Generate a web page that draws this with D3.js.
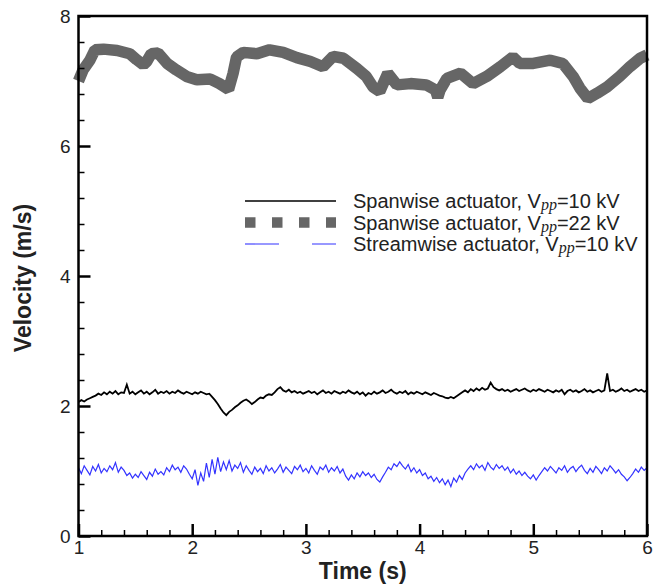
<!DOCTYPE html>
<html>
<head>
<meta charset="utf-8">
<script src="https://cdn.jsdelivr.net/npm/d3@7"></script>
<style>
  body { margin: 0; background: #fff; }
  svg { display: block; font-family: "Liberation Sans", Arial, Helvetica, sans-serif; }
  .tick-label { font-size: 19px; fill: #222; }
  .axis-title { font-size: 23px; font-weight: bold; fill: #222; }
  .legend-text { font-size: 20px; fill: #222; }
</style>
</head>
<body>
<div id="chart"></div>
<script>
// Axis ranges and ticks
var XTICKS = [1, 2, 3, 4, 5, 6];
var YTICKS = [0, 2, 4, 6, 8];
var XMINOR_STEP = 0.2;
var YMINOR_STEP = 0.4;

// Series labels
var LABELS = [
  { pre: 'Spanwise actuator, V', sub: 'pp', post: '=10 kV' },
  { pre: 'Spanwise actuator, V', sub: 'pp', post: '=22 kV' },
  { pre: 'Streamwise actuator, V', sub: 'pp', post: '=10 kV' }
];

// Sampled series (regular time step from T_START to T_END)
var T_START = 1;
var T_END = 6;

// Spanwise actuator, Vpp=10 kV (m/s)
var SPAN10 = [
  2.06, 2.09, 2.07, 2.10, 2.12, 2.14, 2.16, 2.19, 2.17, 2.21,
  2.18, 2.22, 2.19, 2.23, 2.18, 2.21, 2.20, 2.33, 2.19, 2.22,
  2.18, 2.21, 2.24, 2.19, 2.22, 2.18, 2.21, 2.25, 2.19, 2.22,
  2.20, 2.23, 2.19, 2.22, 2.20, 2.24, 2.21, 2.19, 2.22, 2.20,
  2.18, 2.21, 2.19, 2.22, 2.20, 2.18, 2.19, 2.14, 2.09, 2.03,
  1.96, 1.90, 1.86, 1.91, 1.94, 1.98, 2.01, 2.05, 2.08, 2.10,
  2.07, 2.03, 2.06, 2.10, 2.13, 2.12, 2.16, 2.18, 2.17, 2.21,
  2.26, 2.29, 2.24, 2.22, 2.25, 2.21, 2.23, 2.20, 2.22, 2.19,
  2.21, 2.23, 2.20, 2.22, 2.18, 2.21, 2.24, 2.20, 2.22, 2.19,
  2.23, 2.21, 2.19, 2.22, 2.20, 2.24, 2.21, 2.19, 2.22, 2.18,
  2.21, 2.16, 2.20, 2.18, 2.22, 2.19, 2.21, 2.24, 2.20, 2.22,
  2.25, 2.21, 2.19, 2.22, 2.20, 2.23, 2.18, 2.21, 2.19, 2.22,
  2.20, 2.18, 2.21, 2.19, 2.17, 2.20, 2.18, 2.16, 2.15, 2.13,
  2.12, 2.14, 2.12, 2.15, 2.18, 2.21, 2.24, 2.21, 2.26, 2.23,
  2.27, 2.24, 2.28, 2.25, 2.27, 2.36, 2.29, 2.26, 2.24, 2.26,
  2.23, 2.25, 2.22, 2.24, 2.26, 2.23, 2.25, 2.27, 2.24, 2.22,
  2.25, 2.23, 2.26, 2.24, 2.22, 2.25, 2.23, 2.21, 2.24, 2.22,
  2.25, 2.18, 2.23, 2.25, 2.22, 2.24, 2.21, 2.23, 2.26, 2.22,
  2.24, 2.21, 2.23, 2.25, 2.22, 2.24, 2.50, 2.23, 2.25, 2.22,
  2.24, 2.27, 2.23, 2.25, 2.22, 2.24, 2.26, 2.23, 2.25, 2.22,
  2.24
];

// Streamwise actuator, Vpp=10 kV (m/s)
var STREAM10 = [
  1.05, 0.96, 1.08, 1.01, 0.94, 1.07, 1.00, 1.10, 0.97, 1.04,
  0.99, 1.08, 1.02, 1.13, 0.98, 1.06, 1.01, 0.93, 0.97, 0.89,
  0.95, 0.90, 0.99, 0.93, 0.87, 0.98, 0.92, 1.03, 0.95, 0.99,
  0.94, 1.05, 0.99, 1.09, 1.02, 1.06, 0.98, 1.08, 1.03, 0.95,
  0.88, 1.02, 0.78, 0.97, 0.84, 1.12, 0.90, 1.18, 0.95, 1.21,
  0.99, 1.14, 1.02, 1.16, 1.00, 1.09, 1.04, 1.13, 0.98, 1.08,
  1.01, 0.95, 1.06, 0.99, 1.04, 0.96, 1.08, 1.00, 1.05, 0.97,
  1.03, 1.10, 0.98, 1.06, 1.01, 0.96, 1.07, 1.02, 1.09, 0.99,
  1.04, 0.97, 1.08, 1.01, 0.95, 1.06, 1.02, 1.09, 0.98, 1.05,
  1.00, 1.07, 0.97, 1.03, 0.92, 0.86, 0.94, 0.88, 0.97, 0.91,
  0.99, 0.93, 0.97, 0.90, 0.95, 0.87, 0.83, 0.91, 0.98, 1.06,
  1.02, 1.11, 1.07, 1.14, 1.08, 1.03, 1.10, 0.99, 1.05, 0.97,
  1.02, 0.93, 0.97, 0.88, 0.92, 0.84, 0.90, 0.82, 0.88, 0.79,
  0.86, 0.76, 0.89, 0.83, 0.93, 0.87, 0.97, 1.03, 1.08, 1.02,
  1.11, 1.05, 1.09, 1.01, 1.13, 1.06, 1.02, 1.10, 1.04, 1.08,
  1.01, 1.06, 0.97, 1.03, 0.95, 1.00, 0.93, 0.98, 0.92, 0.88,
  0.94, 0.86, 0.93, 0.99, 1.05, 1.00, 1.07, 1.02, 0.97, 1.05,
  1.01, 1.08, 0.98, 1.04, 1.07, 0.99, 1.05, 1.09, 1.01, 0.96,
  1.04, 0.98, 1.07, 1.02, 0.96, 1.05, 1.00, 1.08, 1.03, 0.97,
  1.02, 0.95, 0.91, 0.85, 0.90, 0.96, 1.03, 0.98, 1.06, 1.01,
  1.05
];

// Spanwise actuator, Vpp=22 kV: time (s) and velocity (m/s)
var SPAN22_T = [
  1.00, 1.04, 1.10, 1.145, 1.22, 1.34, 1.45, 1.51, 1.57, 1.60,
  1.64, 1.70, 1.78, 1.86, 1.95, 2.04, 2.16, 2.24, 2.32, 2.36,
  2.39, 2.45, 2.57, 2.68, 2.80, 2.92, 3.04, 3.15, 3.24, 3.33,
  3.45, 3.53, 3.59, 3.65, 3.72, 3.80, 3.92, 4.06, 4.14, 4.16,
  4.18, 4.24, 4.36, 4.47, 4.59, 4.71, 4.82, 4.88, 5.00, 5.15,
  5.26, 5.35, 5.41, 5.48, 5.56, 5.65, 5.76, 5.85, 5.94, 6.00
];
var SPAN22_V = [
  7.00, 7.17, 7.32, 7.48, 7.49, 7.47, 7.42, 7.33, 7.25, 7.30,
  7.42, 7.43, 7.27, 7.17, 7.07, 7.02, 7.03, 6.96, 6.87, 7.12,
  7.37, 7.44, 7.42, 7.48, 7.44, 7.36, 7.30, 7.22, 7.38, 7.35,
  7.19, 7.07, 6.91, 6.84, 7.12, 6.94, 6.96, 6.94, 6.86, 6.75,
  6.86, 7.04, 7.12, 6.96, 7.07, 7.22, 7.37, 7.27, 7.27, 7.32,
  7.27, 7.07, 6.89, 6.73, 6.81, 6.91, 7.07, 7.22, 7.35, 7.40
];

var COLORS = ['#000000', '#666666', '#3333ff'];

var W = 658, H = 587;
var margin = { top: 16, right: 11, bottom: 51, left: 78.5 };
var width = W - margin.left - margin.right;
var height = H - margin.top - margin.bottom;

var x = d3.scaleLinear().domain([1, 6]).range([0, width]);
var y = d3.scaleLinear().domain([0, 8]).range([height, 0]);

var svg = d3.select('#chart')
  .append('svg')
    .attr('width', W)
    .attr('height', H)
  .append('g')
    .attr('transform', 'translate(' + margin.left + ',' + margin.top + ')');

// turn a regularly sampled list into points
function sampled(values) {
  var dt = (T_END - T_START) / (values.length - 1);
  return values.map(function(v, i) { return { t: T_START + i * dt, v: v }; });
}

var line = d3.line()
  .x(function(d) { return x(d.t); })
  .y(function(d) { return y(d.v); });

// gray thick series
var span22 = SPAN22_T.map(function(t, i) { return { t: t, v: SPAN22_V[i] }; });
svg.append('path')
  .datum(span22)
  .attr('fill', 'none')
  .attr('stroke', COLORS[1])
  .attr('stroke-width', 11.5)
  .attr('stroke-linejoin', 'bevel')
  .attr('d', line);

svg.append('path')
  .datum(sampled(SPAN10))
  .attr('fill', 'none')
  .attr('stroke', COLORS[0])
  .attr('stroke-width', 1.8)
  .attr('d', line);

svg.append('path')
  .datum(sampled(STREAM10))
  .attr('fill', 'none')
  .attr('stroke', COLORS[2])
  .attr('stroke-width', 1.2)
  .attr('d', line);

// minor ticks
var xMinor = d3.range(1, 6.0001, XMINOR_STEP).filter(function(v) { return Math.abs(v - Math.round(v)) > 1e-6; });
var yMinor = d3.range(0, 8.0001, YMINOR_STEP).filter(function(v) { return Math.abs(v / 2 - Math.round(v / 2)) > 1e-6; });

svg.append('g')
  .attr('transform', 'translate(0,' + height + ')')
  .call(d3.axisBottom(x).tickValues(xMinor).tickSize(-6).tickFormat(''))
  .call(function(g) { g.select('.domain').remove(); g.selectAll('line').attr('stroke-width', 1.5); });

svg.append('g')
  .call(d3.axisLeft(y).tickValues(yMinor).tickSize(-6).tickFormat(''))
  .call(function(g) { g.select('.domain').remove(); g.selectAll('line').attr('stroke-width', 1.5); });

// major ticks with labels
svg.append('g')
  .attr('transform', 'translate(0,' + height + ')')
  .call(d3.axisBottom(x).tickValues(XTICKS).tickSize(-12).tickPadding(5).tickFormat(d3.format('d')))
  .call(function(g) {
    g.select('.domain').remove();
    g.selectAll('line').attr('stroke-width', 2.5);
    g.selectAll('text').attr('class', 'tick-label').attr('font-family', null).attr('font-size', null);
  });

svg.append('g')
  .call(d3.axisLeft(y).tickValues(YTICKS).tickSize(-12).tickPadding(8).tickFormat(d3.format('d')))
  .call(function(g) {
    g.select('.domain').remove();
    g.selectAll('line').attr('stroke-width', 2.5);
    g.selectAll('text').attr('class', 'tick-label').attr('font-family', null).attr('font-size', null);
  });

// frame
svg.append('rect')
  .attr('width', width)
  .attr('height', height)
  .attr('fill', 'none')
  .attr('stroke', '#000')
  .attr('stroke-width', 2.5);

// axis titles
svg.append('text')
  .attr('class', 'axis-title')
  .attr('x', width / 2)
  .attr('y', height + 43)
  .attr('text-anchor', 'middle')
  .text('Time (s)');

svg.append('text')
  .attr('class', 'axis-title')
  .attr('transform', 'translate(' + (-48) + ',' + (height / 2 + 2) + ') rotate(-90)')
  .attr('text-anchor', 'middle')
  .text('Velocity (m/s)');

// legend
var legend = svg.append('g')
  .attr('transform', 'translate(' + (245 - margin.left) + ',' + (201 - margin.top) + ')');

var styles = [
  { w: 1.6, dash: null },
  { w: 10.5, dash: '10.5,16.5' },
  { w: 1.1, dash: '34,33' }
];

LABELS.forEach(function(lab, i) {
  var row = legend.append('g').attr('transform', 'translate(0,' + (i * 21.5) + ')');
  row.append('line')
    .attr('x1', 0).attr('x2', 91)
    .attr('y1', 0).attr('y2', 0)
    .attr('stroke', COLORS[i])
    .attr('stroke-width', styles[i].w)
    .attr('stroke-dasharray', styles[i].dash);
  var t = row.append('text')
    .attr('class', 'legend-text')
    .attr('x', 108)
    .attr('y', 7);
  t.append('tspan').text(lab.pre);
  t.append('tspan')
    .attr('dy', 2)
    .attr('font-family', '"Liberation Serif", "Times New Roman", serif')
    .attr('font-style', 'italic')
    .attr('font-size', 16)
    .text(lab.sub);
  t.append('tspan')
    .attr('dy', -2)
    .text(lab.post);
});
</script>
</body>
</html>
